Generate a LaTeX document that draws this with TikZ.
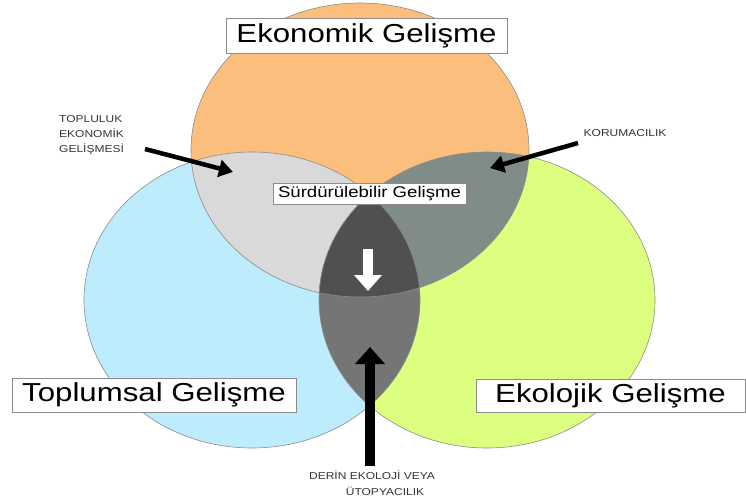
\documentclass[tikz,border=0pt]{standalone}
\usepackage{fontspec}
\setmainfont{Liberation Sans}
\usepackage{graphicx}
\usetikzlibrary{arrows.meta}
\definecolor{ecoOrange}{RGB}{251,190,125}
\definecolor{socBlue}{RGB}{189,236,252}
\definecolor{envGreen}{RGB}{221,255,128}
\definecolor{lgrey}{RGB}{217,217,217}
\definecolor{ggrey}{RGB}{127,140,135}
\definecolor{mgrey}{RGB}{117,117,117}
\definecolor{dgrey}{RGB}{80,80,80}
\newcommand{\hx}[1]{\scalebox{1.2}[1]{#1}}
\tikzset{
  bigbox/.style={draw=black!45, line width=0.6pt, fill=white, inner sep=0pt, font=\fontsize{26}{28}\selectfont},
  midbox/.style={draw=black!45, line width=0.6pt, fill=white, inner sep=0pt, font=\fontsize{15.5}{17}\selectfont},
  smalltxt/.style={inner sep=0pt, text=black!80, font=\fontsize{10}{15}\selectfont},
  rim/.style={draw=black!45, line width=0.6pt},
  thinarrow/.style={line width=4.5pt, -{Triangle[length=14pt,width=17pt]}},
  fatarrow/.style={line width=10pt, -{Triangle[length=17pt,width=29pt]}},
  whitearrow/.style={draw=white, line width=10pt, -{Triangle[length=16pt,width=27pt]}}
}
\begin{document}
\begin{tikzpicture}[x=1pt,y=-1pt]
\useasboundingbox (0,0) rectangle (746,501);
\def\orangeE{(360,150) ellipse [x radius=169, y radius=147]}
\def\blueE{(252,300) ellipse [x radius=168, y radius=148]}
\def\greenE{(487,300) ellipse [x radius=168, y radius=148]}
% base fills
\fill[socBlue] \blueE;
\fill[envGreen] \greenE;
\fill[ecoOrange] \orangeE;
% pairwise intersections
\begin{scope}\clip \orangeE; \fill[lgrey] \blueE; \end{scope}
\begin{scope}\clip \orangeE; \fill[ggrey] \greenE; \end{scope}
\begin{scope}\clip \blueE; \fill[mgrey] \greenE; \end{scope}
% triple intersection
\begin{scope}\clip \orangeE; \clip \blueE; \fill[dgrey] \greenE; \end{scope}
% outlines
\draw[rim] \blueE;
\draw[rim] \greenE;
\draw[rim] \orangeE;
% labels
\node[bigbox, minimum width=281pt, minimum height=35pt] (eko) at (366.5,35.5) {\hx{Ekonomik Gelişme}};
\node[bigbox, minimum width=284pt, minimum height=34pt] (top) at (154,395) {\hx{Toplumsal Gelişme}};
\node[bigbox, minimum width=269pt, minimum height=33pt] (ekl) at (610.5,395.5) {\hx{Ekolojik Gelişme}};
\node[midbox, minimum width=193pt, minimum height=21pt] (sur) at (369.5,193.5) {\hx{Sürdürülebilir Gelişme}};
\node[smalltxt, anchor=north west, align=left] (tek) at (59,115) {\hx{TOPLULUK}\\\hx{EKONOMİK}\\\hx{GELİŞMESİ}};
\node[smalltxt] (kor) at (625,133) {\hx{KORUMACILIK}};
\node[smalltxt] (der1) at (372,475) {\hx{DERİN EKOLOJİ VEYA}};
\node[smalltxt] (der2) at (385,491) {\hx{ÜTOPYACILIK}};
% arrow end points
\coordinate (aTail) at (145,149);
\coordinate (aTip) at (233,172);
\coordinate (bTail) at (578,143);
\coordinate (bTip) at (490,168);
\coordinate (cTail) at (370,466);
\coordinate (cTip) at (370,347);
\coordinate (dTail) at (368,249);
\coordinate (dTip) at (368,291);
\draw[thinarrow] (aTail) -- (aTip);
\draw[thinarrow] (bTail) -- (bTip);
\draw[fatarrow] (cTail) -- (cTip);
\draw[whitearrow] (dTail) -- (dTip);
\end{tikzpicture}
\end{document}
